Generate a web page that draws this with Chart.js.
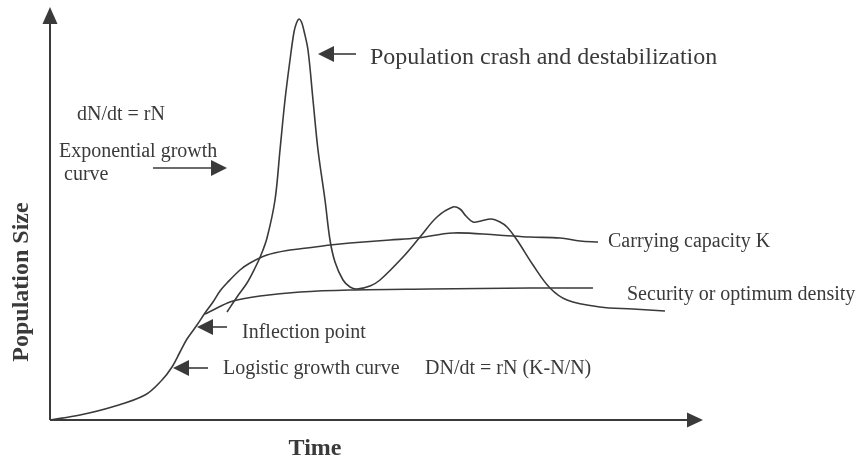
<!DOCTYPE html>
<html>
<head>
<meta charset="utf-8">
<title>Population growth curves</title>
<script src="https://cdn.jsdelivr.net/npm/chart.js@4.4.1/dist/chart.umd.min.js"></script>
<style>
  html, body { margin: 0; padding: 0; background: #fff; }
  #wrap { width: 862px; height: 462px; }
</style>
</head>
<body>
<div id="wrap"><canvas id="chart" width="862" height="462"></canvas></div>
<script>
// Curves (time, population size; origin at the axis corner)
const logisticTime = [0, 30, 62, 95, 112, 122, 130, 137, 147, 155, 163, 170, 177, 190, 200, 217, 240, 257, 280, 300, 340, 367, 403, 447, 480, 510, 530, 548];
const logisticSize = [0, 5, 13, 25, 40, 53, 68, 81, 95, 107, 118, 129, 137, 150, 157, 165, 170, 172, 175, 177, 180, 182, 187, 185, 183, 182, 179, 178];

const securityTime = [155, 167, 183, 210, 250, 300, 380, 480, 543];
const securitySize = [106, 112, 119, 124, 128, 130, 131, 132, 132];

const crashTime = [177, 187, 197, 205, 211, 217, 225, 230, 235, 240, 244, 246.5, 249, 251.5, 254, 258, 263, 268, 275, 280, 285, 293, 300, 307, 320, 330, 353, 370, 387, 403, 410, 416, 423, 431, 441, 450, 457, 467, 483, 500, 517, 550, 583, 615];
const crashSize = [108, 123, 137, 152, 165, 182, 220, 270, 320, 360, 388, 397, 401, 398, 389, 370, 320, 270, 220, 180, 158, 140, 133, 131, 134, 140, 163, 183, 203, 213, 211, 204, 198, 199, 201, 198, 193, 180, 155, 132, 120, 113, 111, 109];

// Text labels and pointer arrows
const labelTexts = ['Population crash and destabilization', 'dN/dt = rN', 'Exponential growth', 'curve', 'Inflection point', 'Logistic growth curve', 'DN/dt = rN (K-N/N)', 'Carrying capacity K', 'Security or optimum density'];
const labelTime = [320, 27, 9, 14, 192, 173, 375, 558, 577];
const labelSize = [362, 305, 268, 245, 87, 51, 51, 178, 125];
const labelFont = [24, 20, 20, 20, 20, 20, 20, 20, 20];

const arrowFromTime = [306, 103, 177, 158];
const arrowFromSize = [366, 252, 93, 52];
const arrowToTime = [268, 177, 147, 123];
const arrowToSize = [366, 252, 93, 52];

const INK = '#3a3a3a';
const SERIF = '"Liberation Serif", "Times New Roman", serif';

function toPoints(xs, ys) {
    return xs.map((x, i) => ({ x: x, y: ys[i] }));
}

function curve(label, xs, ys) {
    return {
        label: label,
        data: toPoints(xs, ys),
        showLine: true,
        borderColor: INK,
        borderWidth: 1.6,
        pointRadius: 0,
        tension: 0.35,
        clip: false
    };
}

function arrowHead(ctx, x1, y1, x2, y2, len, half) {
    const a = Math.atan2(y2 - y1, x2 - x1);
    ctx.beginPath();
    ctx.moveTo(x2, y2);
    ctx.lineTo(x2 - len * Math.cos(a) + half * Math.sin(a), y2 - len * Math.sin(a) - half * Math.cos(a));
    ctx.lineTo(x2 - len * Math.cos(a) - half * Math.sin(a), y2 - len * Math.sin(a) + half * Math.cos(a));
    ctx.closePath();
    ctx.fill();
}

const diagramPlugin = {
    id: 'diagram',
    beforeDraw(chart) {
        const ctx = chart.ctx;
        ctx.save();
        ctx.fillStyle = '#fff';
        ctx.fillRect(0, 0, chart.width, chart.height);
        ctx.restore();
    },
    afterDraw(chart) {
        const ctx = chart.ctx;
        const xs = chart.scales.x;
        const ys = chart.scales.y;
        const px = v => xs.getPixelForValue(v);
        const py = v => ys.getPixelForValue(v);

        ctx.save();
        ctx.strokeStyle = INK;
        ctx.fillStyle = INK;

        // axes with arrow heads
        ctx.lineWidth = 2;
        ctx.beginPath();
        ctx.moveTo(px(0), py(0));
        ctx.lineTo(px(0), py(400));
        ctx.moveTo(px(0), py(0));
        ctx.lineTo(px(640), py(0));
        ctx.stroke();
        arrowHead(ctx, px(0), py(0), px(0), py(413), 17, 7.5);
        arrowHead(ctx, px(0), py(0), px(653), py(0), 16, 7.5);

        // pointer arrows
        ctx.lineWidth = 1.6;
        arrowFromTime.forEach((t, i) => {
            const x1 = px(t), y1 = py(arrowFromSize[i]);
            const x2 = px(arrowToTime[i]), y2 = py(arrowToSize[i]);
            const a = Math.atan2(y2 - y1, x2 - x1);
            ctx.beginPath();
            ctx.moveTo(x1, y1);
            ctx.lineTo(x2 - 10 * Math.cos(a), y2 - 10 * Math.sin(a));
            ctx.stroke();
            arrowHead(ctx, x1, y1, x2, y2, 16, 8);
        });

        // annotations
        ctx.textBaseline = 'middle';
        ctx.textAlign = 'left';
        labelTexts.forEach((txt, i) => {
            ctx.font = labelFont[i] + 'px ' + SERIF;
            ctx.fillText(txt, px(labelTime[i]), py(labelSize[i]));
        });

        // axis titles
        ctx.font = 'bold 24px ' + SERIF;
        ctx.textAlign = 'center';
        ctx.fillText('Time', px(265), py(-29));
        ctx.translate(px(-28), py(138));
        ctx.rotate(-Math.PI / 2);
        ctx.fillText('Population Size', 0, 0);
        ctx.restore();
    }
};

new Chart(document.getElementById('chart'), {
    type: 'scatter',
    data: {
        datasets: [
            curve('Logistic growth / carrying capacity K', logisticTime, logisticSize),
            curve('Security or optimum density', securityTime, securitySize),
            curve('Population crash', crashTime, crashSize)
        ]
    },
    options: {
        responsive: false,
        animation: false,
        devicePixelRatio: 1,
        layout: { padding: 0 },
        plugins: {
            legend: { display: false },
            tooltip: { enabled: false }
        },
        scales: {
            x: { type: 'linear', display: false, min: -50, max: 812 },
            y: { type: 'linear', display: false, min: -42, max: 420 }
        }
    },
    plugins: [diagramPlugin]
});
</script>
</body>
</html>
